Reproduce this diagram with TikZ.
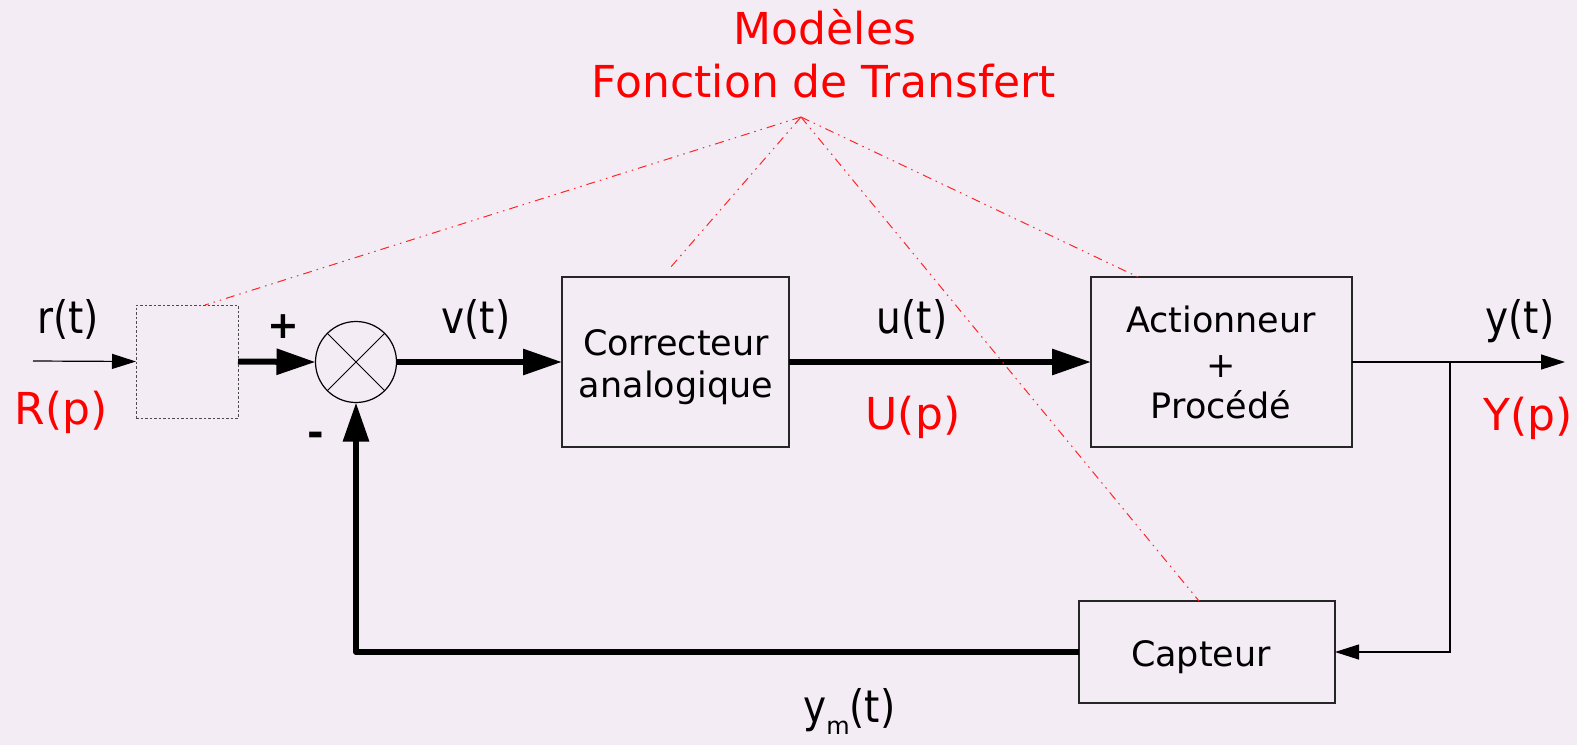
\documentclass[tikz,border=0pt]{standalone}
\usepackage{fontspec}
\setmainfont{DejaVu Sans}
\usetikzlibrary{arrows.meta,calc}
\definecolor{bg}{RGB}{243,236,244}
\newcommand{\tallsig}[1]{\scalebox{1}[1.15]{#1}}
\begin{document}
\begin{tikzpicture}[x=1pt,y=-1pt,
  blk/.style={draw=black!85, line width=1.3pt, inner sep=0pt, outer sep=0pt},
  thickarrow/.style={line width=6pt, -{Triangle[length=39pt,width=25pt]}},
  thinarrow/.style={line width=1.2pt, -{Triangle[length=24pt,width=15pt]}},
  redline/.style={red!85, line width=1pt, dash pattern=on 9pt off 5pt on 1.5pt off 5pt on 1.5pt off 5pt},
  lab/.style={font=\fontsize{39}{47}\selectfont, anchor=base, inner sep=0pt},
  rlab/.style={font=\fontsize{44}{52}\selectfont, anchor=base, inner sep=0pt, text=red},
  ttl/.style={font=\fontsize{44}{53}\selectfont, anchor=base, inner sep=0pt, text=red},
  btxt/.style={font=\fontsize{35}{42}\selectfont, anchor=base, inner sep=0pt},
]
\fill[bg] (0,0) rectangle (1577,745);
\useasboundingbox (0,0) rectangle (1577,745);

% blocks
\node[blk, dash pattern=on 2.5pt off 2pt, draw=black!70, line width=1pt, minimum width=102pt, minimum height=113pt] (pre) at (187,361.5) {};
\node[blk, circle, minimum size=81pt, line width=1.2pt, draw=black] (sum) at (356,362) {};
\draw[line width=1pt] (sum.45) -- (sum.225) (sum.135) -- (sum.315);
\node[blk, minimum width=227pt, minimum height=170pt] (cor) at (675.5,362) {};
\node[blk, minimum width=261pt, minimum height=170pt] (act) at (1221.5,362) {};
\node[blk, minimum width=256pt, minimum height=102pt] (cap) at (1207,652) {};

% block texts
\node[btxt] (t1) at (676,355) {Correcteur};
\node[btxt] (t2) at (676,397) {analogique};
\node[btxt] (t3) at (1221,332) {Actionneur};
\node[btxt] (t4) at (1221,377) {+};
\node[btxt] (t5) at (1221,418) {Procédé};
\node[btxt] (t6) at (1201,666) {Capteur};

% signal labels
\node[lab] (rt) at (68,333) {\tallsig{r(t)}};
\node[rlab] (Rp) at (61,424) {R(p)};
\node[lab] (vt) at (476,333) {\tallsig{v(t)}};
\node[lab] (ut) at (912,333) {\tallsig{u(t)}};
\node[rlab] (Up) at (913,429) {U(p)};
\node[lab] (yt) at (1520,333) {\tallsig{y(t)}};
\node[rlab] (Yp) at (1528,430) {Y(p)};
\node[lab, anchor=base west] (ym) at (803,722) {\tallsig{y}\raisebox{-12pt}{\fontsize{24}{24}\selectfont m}\tallsig{(t)}};
\node[font=\bfseries\fontsize{38}{38}\selectfont, inner sep=0pt] (plus) at (283,327) {+};
\node[font=\bfseries\fontsize{40}{40}\selectfont, inner sep=0pt] (minus) at (316,439) {-};

% title
\node[ttl] (mod) at (825,44) {Modèles};
\node[ttl] (fdt) at (824,97) {Fonction de Transfert};

% connectors
\coordinate (in) at (33,361);
\coordinate (out) at (1565,362);
\coordinate (br) at (1450,362);
\draw[thinarrow] (in) -- (pre.west);
\draw[thickarrow] (pre.east) -- (sum.west);
\draw[thickarrow] (sum.east) -- (cor.west);
\draw[thickarrow] (cor.east) -- (act.west);
\draw[line width=1.2pt] (act.east) -- (br);
\draw[thinarrow] (br) -- (out);
\draw[thinarrow] (br) |- (cap.east);
\draw[thickarrow, line join=round] (cap.west) -| (sum.south);

% red model lines
\coordinate (apex) at (801,117);
\coordinate (e1) at (205,305);
\coordinate (e2) at (670,268);
\coordinate (e3) at (1199,601);
\coordinate (e4) at (1138,277);
\draw[redline] (apex) -- (e1);
\draw[redline] (apex) -- (e2);
\draw[redline] (apex) -- (e3);
\draw[redline] (apex) -- (e4);
\end{tikzpicture}
\end{document}
